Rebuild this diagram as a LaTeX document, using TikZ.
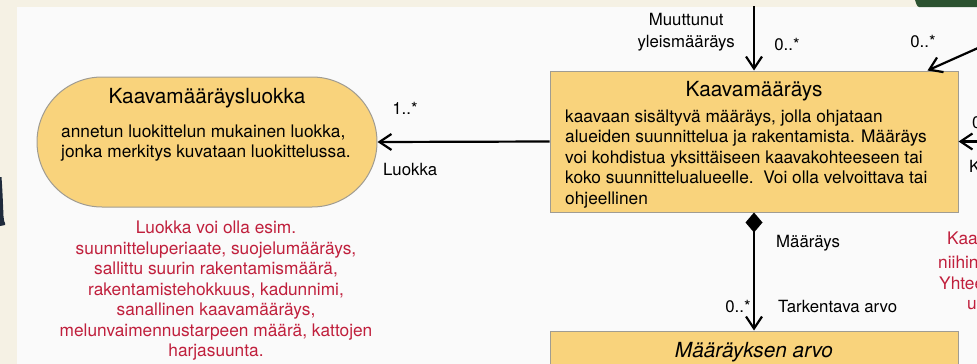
\documentclass[tikz,border=0pt]{standalone}
\usepackage{fontspec}
\setmainfont{TeX Gyre Heros}
\usetikzlibrary{arrows.meta}
\definecolor{cream}{HTML}{F5F1E4}
\definecolor{panel}{HTML}{FAFAFA}
\definecolor{boxfill}{HTML}{F9D37C}
\definecolor{boxline}{HTML}{A09C92}
\definecolor{notered}{HTML}{C01F3C}
\definecolor{dgreen}{HTML}{2C5230}
\definecolor{navy}{HTML}{1F2B3C}
\begin{document}
\begin{tikzpicture}[x=1pt,y=-1pt,
  umlbox/.style={draw=boxline, fill=boxfill, line width=1pt, inner sep=0pt},
  titletext/.style={font=\fontsize{20.8}{24}\selectfont, inner sep=0pt},
  bodytext/.style={font=\fontsize{17.3}{20.5}\selectfont, inner sep=0pt},
  lbl/.style={font=\fontsize{16.8}{22}\selectfont, inner sep=0pt},
  assoc/.style={line width=2.2pt, -{Straight Barb[length=12pt,width=16pt,line width=2.2pt]}},
  comp/.style={line width=2.2pt, {Diamond[length=20pt,width=17pt]}-{Straight Barb[length=12pt,width=16pt,line width=2.2pt]}}
]
\useasboundingbox (0,0) rectangle (977,364);
\clip (0,0) rectangle (977,364);
% background
\fill[cream] (0,0) rectangle (977,364);
\fill[panel] (17,7) rectangle (977,364);
\fill[dgreen] (915,0) -- (977,0) -- (977,7) -- (919,7) .. controls (917,7) and (916,3) .. (915,0) -- cycle;
\fill[navy] (0,177) -- (1.5,177) .. controls (2.5,190) and (3,205) .. (3.5,216) .. controls (4,221) and (4.5,223) .. (5,223) -- (5,225) -- (0,226) -- cycle;

% Kaavamääräysluokka
\node[umlbox, rounded corners=65pt, minimum width=340pt, minimum height=130pt] (klass) at (207,142) {};
\node[titletext] (klasstitle) at (207,98) {Kaavamääräysluokka};
\node[bodytext, align=left, anchor=west] (klassbody) at (61,143)
  {annetun luokittelun mukainen luokka,\\jonka merkitys kuvataan luokittelussa.};

% note
\node[bodytext, text=notered, align=center] (note) at (216,291)
  {Luokka voi olla esim.\\suunnitteluperiaate, suojelumääräys,\\sallittu suurin rakentamismäärä,\\rakentamistehokkuus, kadunnimi,\\sanallinen kaavamääräys,\\melunvaimennustarpeen määrä, kattojen\\harjasuunta.};

% Kaavamääräys
\node[umlbox, minimum width=408pt, minimum height=141pt] (kaava) at (754,141.5) {};
\node[titletext] (kaavatitle) at (754,91) {Kaavamääräys};
\node[bodytext, align=left, anchor=west] (kaavabody) at (565,159)
  {kaavaan sisältyvä määräys, jolla ohjataan\\alueiden suunnittelua ja rakentamista. Määräys\\voi kohdistua yksittäiseen kaavakohteeseen tai\\koko suunnittelualueelle.\ \ Voi olla velvoittava tai\\ohjeellinen};

% Määräyksen arvo
\node[umlbox, minimum width=408pt, minimum height=90pt] (arvo) at (754,376) {};
\node[titletext, font=\fontsize{20.8}{24}\selectfont\itshape] (arvotitle) at (754,352) {Määräyksen arvo};

% connectors
\coordinate (topin) at (754,6);
\coordinate (diagin) at (978,48);
\coordinate (rightin) at (978,141.5);
\draw[assoc] (topin) -- (kaava.north);
\draw[assoc] (diagin) -- ([xshift=-31pt]kaava.north east);
\draw[assoc] (rightin) -- (kaava.east);
\draw[assoc] (kaava.west) -- (klass.east);
\draw[comp] (kaava.south) -- (arvo.north);

% labels
\node[lbl, align=center, anchor=east] (lmuut) at (735,32) {Muuttunut\\yleismääräys};
\node[lbl] (m1) at (787,45) {0..*};
\node[lbl] (m2) at (923,42) {0..*};
\node[lbl] (m3) at (405,108) {1..*};
\node[lbl, anchor=west] (lluokka) at (383,170) {Luokka};
\node[lbl, anchor=west] (lmaar) at (776,243) {Määräys};
\node[lbl, anchor=west] (ltark) at (778,306) {Tarkentava arvo};
\node[lbl] (m4) at (738,306) {0..*};
\node[lbl, anchor=west] (m5) at (972,123) {0..*};
\node[lbl, anchor=west] (lk) at (969,166) {K};

% partial red note at right edge
\node[bodytext, text=notered, anchor=west] (r1) at (947,238) {Kaav};
\node[bodytext, text=notered, anchor=west] (r2) at (938,262) {niihin};
\node[bodytext, text=notered, anchor=west] (r3) at (939,283) {Yhtee};
\node[bodytext, text=notered, anchor=west] (r4) at (967,305) {us};
\end{tikzpicture}
\end{document}
